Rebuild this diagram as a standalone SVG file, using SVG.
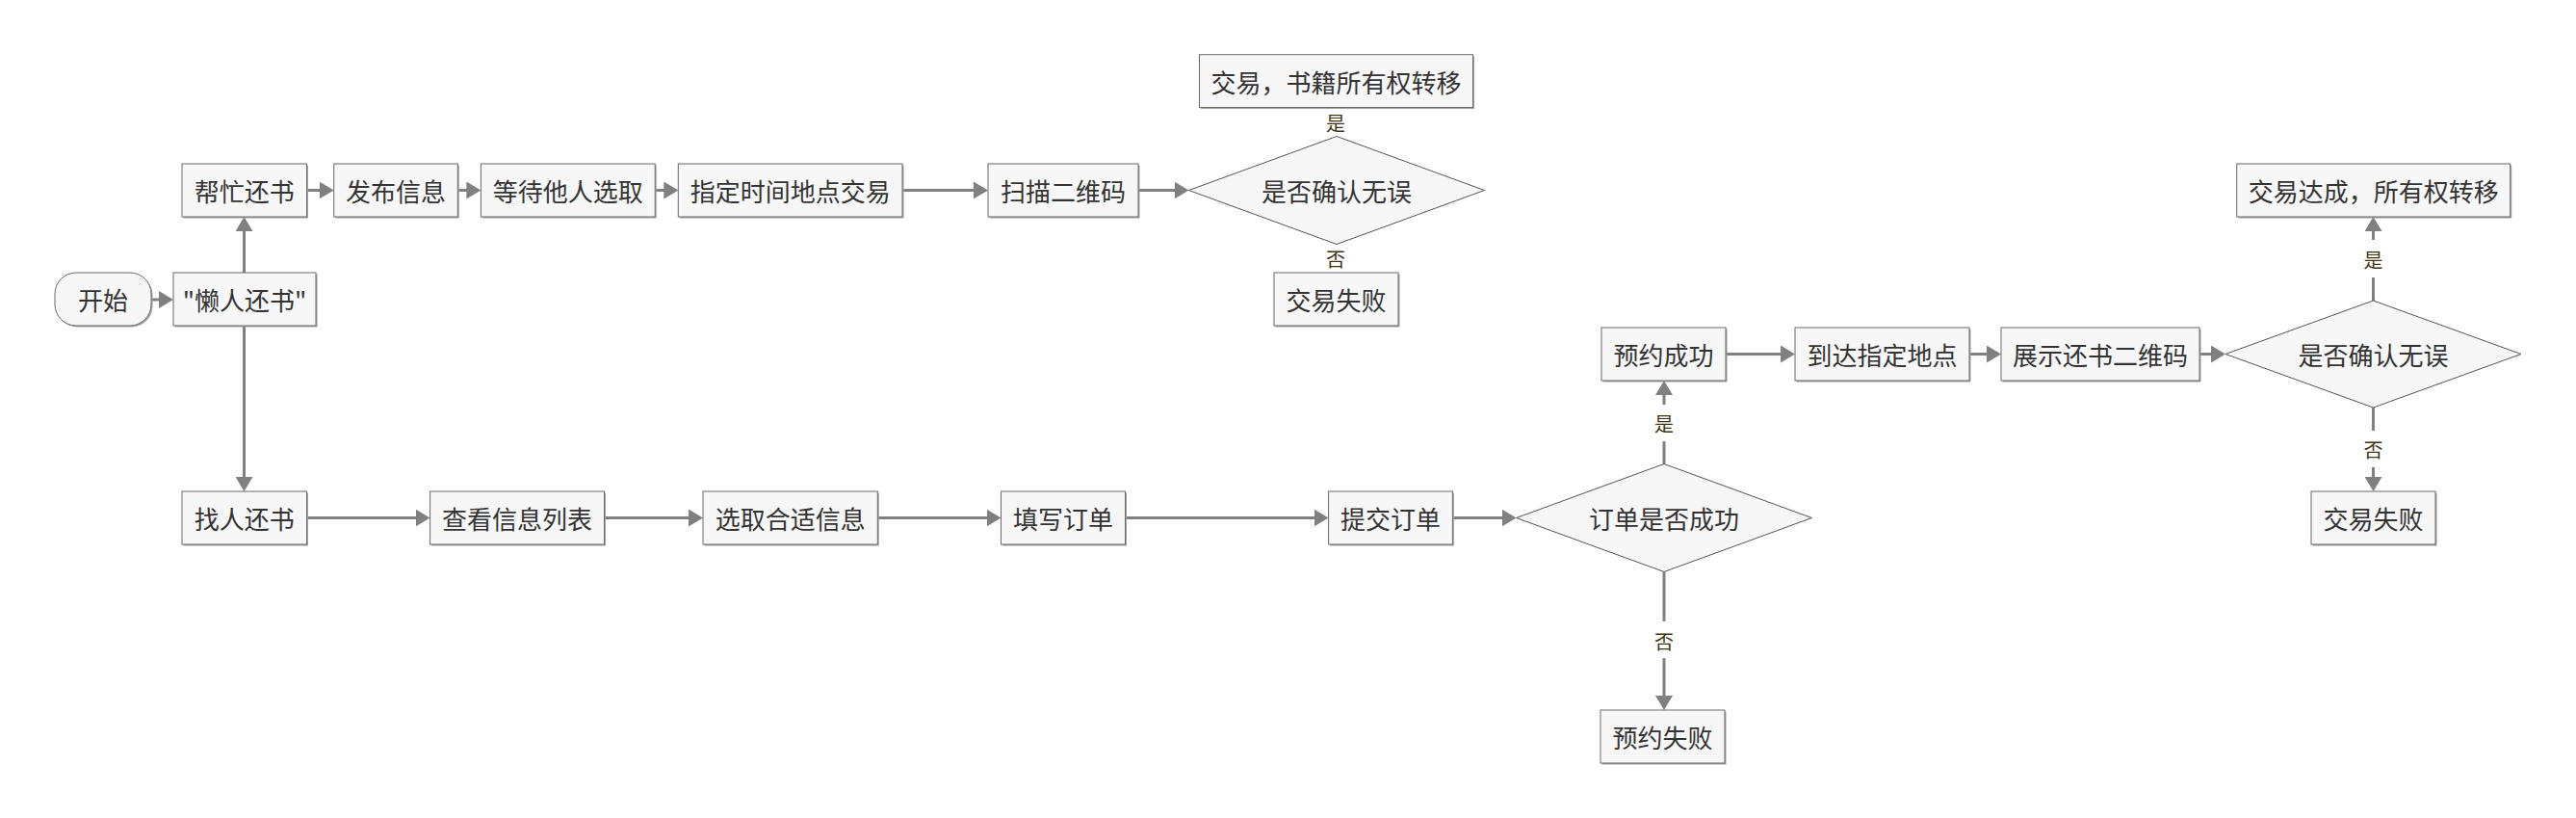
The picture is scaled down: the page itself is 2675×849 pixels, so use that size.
<svg xmlns="http://www.w3.org/2000/svg" width="2675" height="849" viewBox="0 0 2675 849">
<style>
.box{fill:#f7f7f7;stroke:#6a6a6a;stroke-width:1}
.sh{fill:#a3a3a3}
.dia{fill:#f7f7f7;stroke:#555;stroke-width:1}
.t{font-family:"Noto Sans CJK SC","Liberation Sans",sans-serif;font-size:26px;fill:#333;text-anchor:middle;dominant-baseline:central}
.lb{font-family:"Noto Sans CJK SC","Liberation Sans",sans-serif;font-size:20px;fill:#3f3410;text-anchor:middle;dominant-baseline:central}
.c{fill:none;stroke:#808080;stroke-width:3}
</style>
<defs>
<marker id="ah" viewBox="0 0 15 18" refX="12" refY="9" markerWidth="15" markerHeight="18" markerUnits="userSpaceOnUse" orient="auto">
<path d="M0,0 L15,9 L0,18 Z" fill="#808080"/>
</marker>
</defs>
<rect width="2675" height="849" fill="#fff"/>
<g id="connectors">
<path class="c" d="M157,311 H177" marker-end="url(#ah)"/>
<path class="c" d="M253.5,283 V228" marker-end="url(#ah)"/>
<path class="c" d="M253.5,338 V507" marker-end="url(#ah)"/>
<path class="c" d="M318.5,197.5 H343.7" marker-end="url(#ah)"/>
<path class="c" d="M475.3,197.5 H496.4" marker-end="url(#ah)"/>
<path class="c" d="M680.2,197.5 H701.3" marker-end="url(#ah)"/>
<path class="c" d="M937,197.5 H1023" marker-end="url(#ah)"/>
<path class="c" d="M1182,197.5 H1231.5" marker-end="url(#ah)"/>
<path class="c" d="M318.5,537.5 H443.6" marker-end="url(#ah)"/>
<path class="c" d="M627.5,537.5 H727" marker-end="url(#ah)"/>
<path class="c" d="M911.3,537.5 H1036.5" marker-end="url(#ah)"/>
<path class="c" d="M1168.5,537.5 H1376.6" marker-end="url(#ah)"/>
<path class="c" d="M1508.4,537.5 H1571.5" marker-end="url(#ah)"/>
<path class="c" d="M1728,481.5 V458"/>
<path class="c" d="M1728,420 V398" marker-end="url(#ah)"/>
<path class="c" d="M1728,593.5 V645"/>
<path class="c" d="M1728,683 V734" marker-end="url(#ah)"/>
<path class="c" d="M1792,367.5 H1861" marker-end="url(#ah)"/>
<path class="c" d="M2045,367.5 H2075" marker-end="url(#ah)"/>
<path class="c" d="M2284,367.5 H2308" marker-end="url(#ah)"/>
<path class="c" d="M2464.5,312 V288"/>
<path class="c" d="M2464.5,249 V228" marker-end="url(#ah)"/>
<path class="c" d="M2464.5,423 V447"/>
<path class="c" d="M2464.5,485 V507" marker-end="url(#ah)"/>
<text class="lb" x="1387" y="127">是</text>
<text class="lb" x="1387" y="268">否</text>
<text class="lb" x="1728" y="439">是</text>
<text class="lb" x="1728" y="665">否</text>
<text class="lb" x="2464.5" y="269">是</text>
<text class="lb" x="2464.5" y="466">否</text>
</g>
<g id="n_start">
<rect x="58.5" y="284.5" width="100" height="55" rx="22" class="sh"/>
<rect x="57" y="283" width="100" height="55" rx="22" class="box"/>
<text class="t" x="107" y="310.5">开始</text>
</g>
<g id="n_lazy">
<rect x="181.5" y="284.5" width="148" height="55" class="sh"/>
<rect x="180" y="283" width="148" height="55" class="box"/>
<text class="t" x="254" y="310.5">"懒人还书"</text>
</g>
<g id="n_help">
<rect x="190.5" y="171.5" width="129.5" height="55" class="sh"/>
<rect x="189" y="170" width="129.5" height="55" class="box"/>
<text class="t" x="253.75" y="197.5">帮忙还书</text>
</g>
<g id="n_publish">
<rect x="348.2" y="171.5" width="128.6" height="55" class="sh"/>
<rect x="346.7" y="170" width="128.6" height="55" class="box"/>
<text class="t" x="411" y="197.5">发布信息</text>
</g>
<g id="n_wait">
<rect x="500.9" y="171.5" width="180.8" height="55" class="sh"/>
<rect x="499.4" y="170" width="180.8" height="55" class="box"/>
<text class="t" x="589.8" y="197.5">等待他人选取</text>
</g>
<g id="n_appoint">
<rect x="705.8" y="171.5" width="232.7" height="55" class="sh"/>
<rect x="704.3" y="170" width="232.7" height="55" class="box"/>
<text class="t" x="820.65" y="197.5">指定时间地点交易</text>
</g>
<g id="n_scan">
<rect x="1027.5" y="171.5" width="156" height="55" class="sh"/>
<rect x="1026" y="170" width="156" height="55" class="box"/>
<text class="t" x="1104" y="197.5">扫描二维码</text>
</g>
<g id="d_confirm1">
<polygon class="dia" points="1234.5,197.5 1388,141.5 1541.5,197.5 1388,253.5"/>
<text class="t" x="1388" y="197.5">是否确认无误</text>
</g>
<g id="n_trade1">
<rect x="1247" y="58.2" width="284" height="54.8" class="sh"/>
<rect x="1245.5" y="56.7" width="284" height="54.8" class="box"/>
<text class="t" x="1387.5" y="84">交易，书籍所有权转移</text>
</g>
<g id="n_fail1">
<rect x="1324.5" y="284.5" width="129" height="55" class="sh"/>
<rect x="1323" y="283" width="129" height="55" class="box"/>
<text class="t" x="1387.5" y="310.5">交易失败</text>
</g>
<g id="n_find">
<rect x="190.5" y="511.5" width="129.5" height="55" class="sh"/>
<rect x="189" y="510" width="129.5" height="55" class="box"/>
<text class="t" x="253.75" y="537.5">找人还书</text>
</g>
<g id="n_view">
<rect x="448.1" y="511.5" width="180.9" height="55" class="sh"/>
<rect x="446.6" y="510" width="180.9" height="55" class="box"/>
<text class="t" x="537" y="537.5">查看信息列表</text>
</g>
<g id="n_select">
<rect x="731.5" y="511.5" width="181.3" height="55" class="sh"/>
<rect x="730" y="510" width="181.3" height="55" class="box"/>
<text class="t" x="820.65" y="537.5">选取合适信息</text>
</g>
<g id="n_fill">
<rect x="1041" y="511.5" width="129" height="55" class="sh"/>
<rect x="1039.5" y="510" width="129" height="55" class="box"/>
<text class="t" x="1104" y="537.5">填写订单</text>
</g>
<g id="n_submit">
<rect x="1381.1" y="511.5" width="128.8" height="55" class="sh"/>
<rect x="1379.6" y="510" width="128.8" height="55" class="box"/>
<text class="t" x="1444" y="537.5">提交订单</text>
</g>
<g id="d_order">
<polygon class="dia" points="1574.5,537.5 1728,481.5 1881.5,537.5 1728,593.5"/>
<text class="t" x="1728" y="537.5">订单是否成功</text>
</g>
<g id="n_resv_ok">
<rect x="1664.5" y="341.5" width="129" height="55" class="sh"/>
<rect x="1663" y="340" width="129" height="55" class="box"/>
<text class="t" x="1727.5" y="367.5">预约成功</text>
</g>
<g id="n_resv_fail">
<rect x="1663.5" y="738.5" width="129" height="55" class="sh"/>
<rect x="1662" y="737" width="129" height="55" class="box"/>
<text class="t" x="1726.5" y="764.5">预约失败</text>
</g>
<g id="n_arrive">
<rect x="1865.5" y="341.5" width="181" height="55" class="sh"/>
<rect x="1864" y="340" width="181" height="55" class="box"/>
<text class="t" x="1954.5" y="367.5">到达指定地点</text>
</g>
<g id="n_show">
<rect x="2079.5" y="341.5" width="206" height="55" class="sh"/>
<rect x="2078" y="340" width="206" height="55" class="box"/>
<text class="t" x="2181" y="367.5">展示还书二维码</text>
</g>
<g id="d_confirm2">
<polygon class="dia" points="2311,367.5 2464.5,312 2618,367.5 2464.5,423"/>
<text class="t" x="2464.5" y="367.5">是否确认无误</text>
</g>
<g id="n_trade2">
<rect x="2324.2" y="171.5" width="284" height="55" class="sh"/>
<rect x="2322.7" y="170" width="284" height="55" class="box"/>
<text class="t" x="2464.7" y="197.5">交易达成，所有权转移</text>
</g>
<g id="n_fail2">
<rect x="2401.5" y="511.5" width="129" height="55" class="sh"/>
<rect x="2400" y="510" width="129" height="55" class="box"/>
<text class="t" x="2464.5" y="537.5">交易失败</text>
</g>
</svg>
